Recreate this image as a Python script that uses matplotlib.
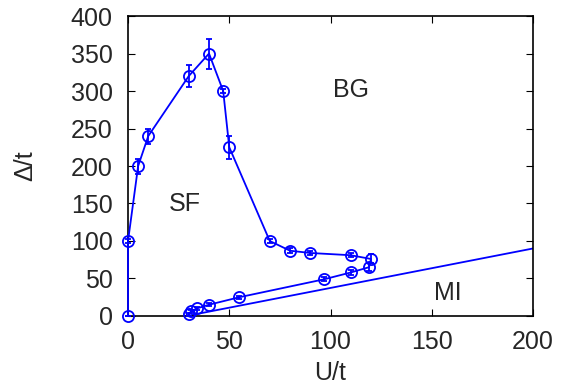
import matplotlib
matplotlib.use("Agg")
import matplotlib.pyplot as plt

plt.rcParams['font.family'] = ['Liberation Sans', 'DejaVu Sans']

# phase boundary (closed curve: SF/BG upper branch then lower branch)
u_vals = [0, 0, 5, 10, 30, 40, 47, 50, 70, 80, 90, 110, 120, 119, 110, 97, 55, 40, 34, 31, 30]
d_vals = [0, 100, 200, 240, 320, 350, 300, 225, 100, 87, 84, 81, 76, 65, 58, 49, 25, 15, 10, 6, 2]
d_err = [0, 3, 10, 10, 15, 20, 3, 15, 3, 3, 3, 3, 6, 5, 3, 3, 2, 2, 2, 2, 2]

# MI boundary line
mi_u = [29, 200]
mi_d = [0, 90]

labels = [("BG", 110, 301), ("SF", 28, 149), ("MI", 158, 30)]

fig = plt.figure(figsize=(5.63, 3.92), dpi=100)
ax = fig.add_axes([0.2274, 0.194, 0.7193, 0.765])

ax.errorbar(u_vals, d_vals, yerr=d_err, color='#0000ff', marker='o', mfc='none',
            mec='#0000ff', ms=8, mew=1.3, lw=1.3, elinewidth=1.3, capsize=2.5, capthick=1.3,
            clip_on=False, zorder=3)
ax.plot(mi_u, mi_d, color='#0000ff', lw=1.3, zorder=2)

for t, x, y in labels:
    ax.text(x, y, t, fontsize=18, color='#262626', ha='center', va='center')

ax.set_xlim(0, 200)
ax.set_ylim(0, 400)
ax.set_xticks([0, 50, 100, 150, 200])
ax.set_yticks(range(0, 401, 50))
ax.tick_params(direction='in', top=True, right=True, length=5, width=0.8,
               labelsize=18, labelcolor='#262626')
ax.tick_params(axis='x', pad=10)
ax.tick_params(axis='y', pad=11)
for s in ax.spines.values():
    s.set_linewidth(1.2)
ax.set_xlabel('U/t', fontsize=18, color='#262626', labelpad=5)
ax.set_ylabel('Δ/t', fontsize=18, color='#262626', labelpad=24)

fig.savefig('out.png', dpi=100)
